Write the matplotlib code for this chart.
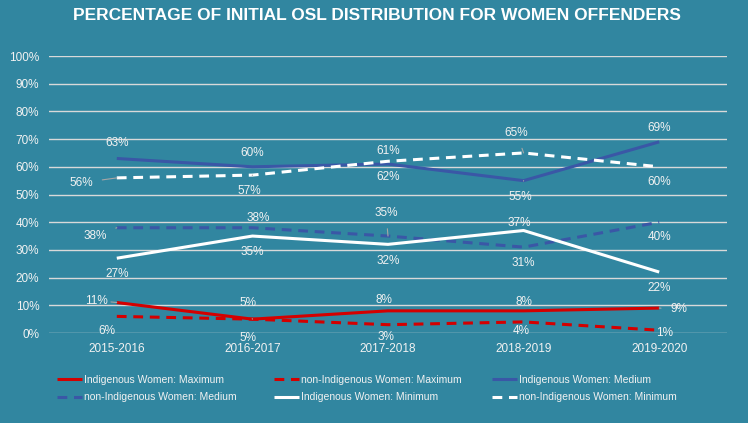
import matplotlib
matplotlib.use("Agg")
import matplotlib.pyplot as plt

years = ["2015-2016", "2016-2017", "2017-2018", "2018-2019", "2019-2020"]
ind_max = [11, 5, 8, 8, 9]
non_max = [6, 5, 3, 4, 1]
ind_med = [63, 60, 61, 55, 69]
non_med = [38, 38, 35, 31, 40]
ind_min = [27, 35, 32, 37, 22]
non_min = [56, 57, 62, 65, 60]
yticks = [0, 10, 20, 30, 40, 50, 60, 70, 80, 90, 100]

FONT = "Liberation Sans"
BG = "#3186A0"
RED = "#D40000"
BLUE = "#3A57A6"
WHITE = "#FFFFFF"
TXT = "#F2F2F2"

fig = plt.figure(figsize=(7.48, 4.23), dpi=100, facecolor=BG)
ax = fig.add_axes([49/748, 1-333/423, (727-49)/748, (333-56)/423], facecolor=BG)

x = list(range(len(years)))
dash = (3.2, 2.2)
series = [
    ("Indigenous Women: Maximum", ind_max, RED, "-"),
    ("non-Indigenous Women: Maximum", non_max, RED, "--"),
    ("Indigenous Women: Medium", ind_med, BLUE, "-"),
    ("non-Indigenous Women: Medium", non_med, BLUE, "--"),
    ("Indigenous Women: Minimum", ind_min, WHITE, "-"),
    ("non-Indigenous Women: Minimum", non_min, WHITE, "--"),
]
handles = []
for name, vals, col, ls in series:
    kw = dict(color=col, lw=2.2, solid_capstyle="butt", zorder=3)
    if ls == "--":
        ln, = ax.plot(x, vals, dashes=dash, dash_capstyle="butt", **kw)
    else:
        ln, = ax.plot(x, vals, **kw)
    handles.append(ln)

ax.set_xlim(-0.5, 4.5)
ax.set_ylim(0, 100)
ax.set_yticks(yticks)
ax.set_yticklabels([f"{v}%" for v in yticks])
ax.set_xticks(x)
ax.set_xticklabels(years)
ax.yaxis.grid(True, color="#D9D9D9", lw=1.0)
ax.set_axisbelow(True)
for s in ax.spines.values():
    s.set_visible(False)
ax.tick_params(length=0, colors=TXT, labelsize=8.5)
for t in ax.get_xticklabels() + ax.get_yticklabels():
    t.set_fontfamily(FONT)
ax.tick_params(axis="y", pad=7)
ax.tick_params(axis="x", pad=7)

# label offsets in pixels (dx, dy), and whether to draw a leader line
offs = {
    0: [(-20, 2, True), (-4, 16, True), (-4, 11, False), (0, 9, False), (20, -1, True)],
    1: [(-10, -15, False), (-4, -19, False), (-2, -12, False), (-2, -9, False), (5, -3, False)],
    2: [(0, 15, False), (0, 14, False), (0, 13, False), (-3, -16, True), (0, 14, False)],
    3: [(-22, -8, True), (6, 10, False), (-2, 23, True), (0, -16, False), (0, -15, False)],
    4: [(0, -16, False), (0, -16, False), (0, -17, False), (-4, 8, False), (0, -16, False)],
    5: [(-36, -5, True), (-3, -16, True), (0, -16, False), (-7, 20, True), (0, -15, False)],
}
for i, (name, vals, col, ls) in enumerate(series):
    for j, v in enumerate(vals):
        dx, dy, lead = offs[i][j]
        ap = dict(arrowstyle="-", color="#A6A6A6", lw=0.8, shrinkA=5, shrinkB=0) if lead else None
        ax.annotate(f"{v}%", (j, v), xytext=(dx, dy), textcoords="offset pixels",
                    ha="center", va="center", color=TXT, fontsize=8.5,
                    fontfamily=FONT, arrowprops=ap, zorder=5)

fig.text(377/748, 1-16/423, "PERCENTAGE OF INITIAL OSL DISTRIBUTION FOR WOMEN OFFENDERS",
         ha="center", va="center", color="white", fontsize=12.5, fontweight="bold",
         fontfamily=FONT)

# legend: three columns, two rows
cols = [(57, [0, 3]), (274, [1, 4]), (492, [2, 5])]
for xpix, idx in cols:
    leg = fig.legend([handles[k] for k in idx], [series[k][0] for k in idx],
                     loc="center left", bbox_to_anchor=(xpix/748, 1-388.5/423),
                     frameon=False, handlelength=2.4, handletextpad=0.2,
                     labelspacing=0.75, borderpad=0, borderaxespad=0,
                     prop={"family": FONT, "size": 7.5})
    for t in leg.get_texts():
        t.set_color(TXT)

fig.savefig("out.png", dpi=100, facecolor=BG)
